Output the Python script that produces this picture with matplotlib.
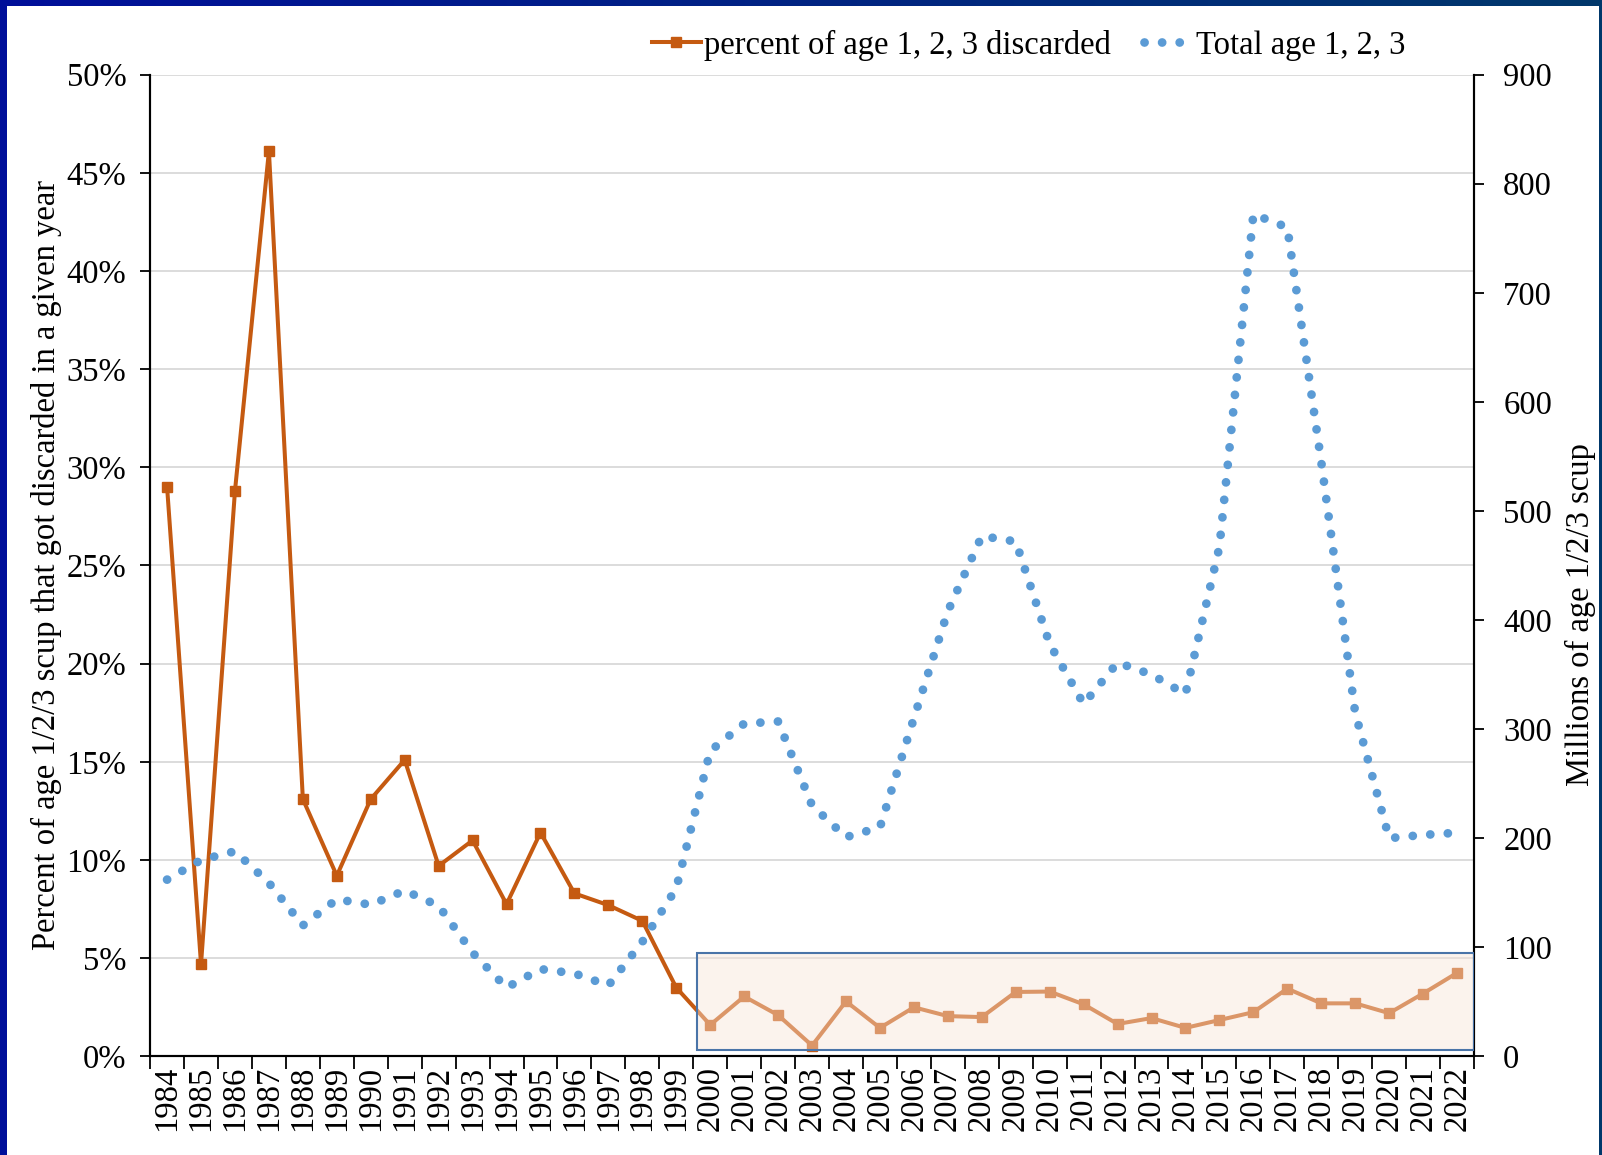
import numpy as np
import matplotlib
matplotlib.use("Agg")
import matplotlib.pyplot as plt
from matplotlib.patches import Rectangle
from matplotlib.lines import Line2D
from matplotlib.colors import LinearSegmentedColormap

plt.rcParams['font.family'] = ['Liberation Serif', 'DejaVu Serif']

# data
years = list(range(1984, 2023))
pct_discarded = [29.0, 4.7, 28.8, 46.1, 13.1, 9.2, 13.1, 15.1, 9.7, 11.0,
                 7.75, 11.4, 8.3, 7.7, 6.9, 3.5, 1.6, 3.05, 2.1, 0.55,
                 2.8, 1.45, 2.5, 2.05, 2.0, 3.28, 3.3, 2.65, 1.65, 1.95,
                 1.45, 1.85, 2.25, 3.45, 2.7, 2.7, 2.2, 3.2, 4.25]
total_123 = [162, 180, 188, 159, 120, 144, 139, 152, 138, 95,
             63, 80, 76, 65, 105, 154, 280, 305, 307, 230,
             201, 210, 310, 408, 477, 472, 378, 323, 361, 350,
             332, 467, 772, 760, 545, 315, 200, 203, 205]

# highlight box (left-axis units, year index)
box_x0, box_x1 = 15.6, 38.5
box_y0, box_y1 = 0.33, 5.26

orange = '#c55a11'
blue = '#5b9bd5'
fs = 23.5
dots = (0, (0.01, 2.0))

fig = plt.figure(figsize=(16.02, 11.55), dpi=100)
ax = fig.add_axes([0.0937, 0.0854, 0.8264, 0.8500])
ax2 = ax.twinx()

x = np.arange(len(years))

ax.plot(x, pct_discarded, color=orange, lw=2.9, marker='s', ms=7.5, zorder=3)
ax2.plot(x, total_123, color=blue, lw=6.3, linestyle=dots,
         dash_capstyle='round', zorder=3)

# shaded box drawn above both series
ax2.add_patch(Rectangle((box_x0, box_y0), box_x1 - box_x0, box_y1 - box_y0,
                        transform=ax.transData, facecolor='#f8e4d8', alpha=0.44,
                        edgecolor='none', zorder=5))
ax2.add_patch(Rectangle((box_x0, box_y0), box_x1 - box_x0, box_y1 - box_y0,
                        transform=ax.transData, facecolor='none',
                        edgecolor='#4a74a8', lw=1.5, zorder=6))

ax.set_xlim(-0.5, len(years) - 0.5)
ax.set_ylim(0, 50)
ax2.set_ylim(0, 900)

ax.set_yticks(np.arange(0, 51, 5))
ax.set_yticklabels([f'{v}%' for v in range(0, 51, 5)], fontsize=fs)
ax2.set_yticks(np.arange(0, 901, 100))
ax2.set_yticklabels([str(v) for v in range(0, 901, 100)], fontsize=fs)

ax.set_xticks(np.arange(-0.5, len(years), 1.0))
ax.set_xticklabels([])
ax.set_xticks(x, minor=True)
ax.set_xticklabels([str(y) for y in years], minor=True, rotation=90, fontsize=fs)
ax.tick_params(axis='x', which='major', length=9, width=1.3, direction='out')
ax.tick_params(axis='x', which='minor', length=0, pad=7)
ax.tick_params(axis='y', length=7, width=1.3, direction='out', pad=10)
ax2.tick_params(axis='y', length=7, width=1.3, direction='out', pad=14)

ax.yaxis.grid(True, color='#d9d9d9', lw=1.3)
ax.set_axisbelow(True)

for a in (ax, ax2):
    a.spines['top'].set_visible(False)
    for s in ('left', 'right', 'bottom'):
        a.spines[s].set_linewidth(1.5)
        a.spines[s].set_color('black')

ax.set_ylabel('Percent of age 1/2/3 scup that got discarded in a given year',
              fontsize=fs, labelpad=3)
ax2.set_ylabel('Millions of age 1/2/3 scup', fontsize=fs, labelpad=9)
ax2.yaxis.label.set_y(0.45)

handles = [Line2D([], [], color=orange, lw=2.9, marker='s', ms=7.5),
           Line2D([], [], color=blue, lw=6.3, linestyle=dots,
                  dash_capstyle='round')]
fig.legend(handles, ['percent of age 1, 2, 3 discarded', 'Total age 1, 2, 3'],
           loc='center', bbox_to_anchor=(0.642, 0.961), ncol=2, frameon=False,
           fontsize=fs, handlelength=1.5, handletextpad=0.1, columnspacing=1.0)

# navy frame
cmap = LinearSegmentedColormap.from_list('frame', ['#000f9a', '#00386b'])
top = fig.add_axes([0, 1 - 6 / 1155, 1, 6 / 1155])
top.imshow(np.linspace(0, 1, 256)[None, :], aspect='auto', cmap=cmap)
top.axis('off')
fig.patches.append(Rectangle((0, 0), 7 / 1602, 1, transform=fig.transFigure,
                             facecolor='#000f9a', edgecolor='none'))
fig.patches.append(Rectangle((1 - 3 / 1602, 0), 3 / 1602, 1, transform=fig.transFigure,
                             facecolor='#00386b', edgecolor='none'))

fig.savefig('out.png', dpi=100)
